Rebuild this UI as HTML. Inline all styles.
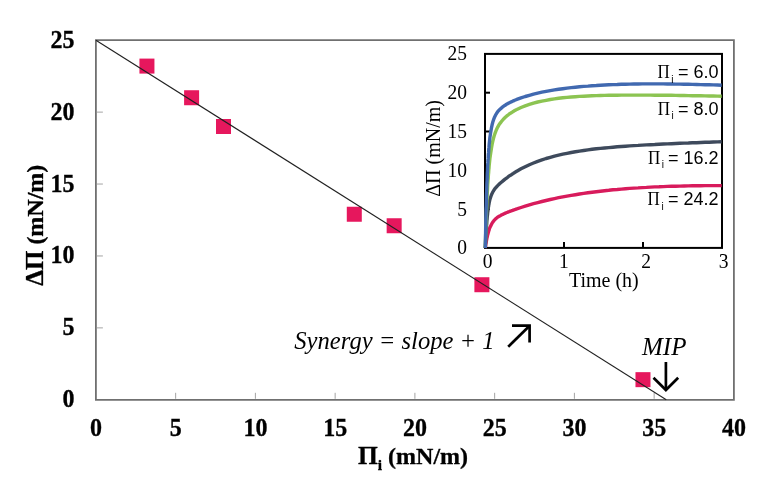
<!DOCTYPE html>
<html><head><meta charset="utf-8"><style>
html,body{margin:0;padding:0;background:#fff;}
body{width:766px;height:487px;overflow:hidden;}
svg{display:block;filter:blur(0.3px);}
</style></head><body>
<svg width="766" height="487" viewBox="0 0 766 487">
<rect width="766" height="487" fill="#fff"/>
<g stroke="#707070" stroke-width="1.8" fill="none">
<path d="M95.9 40.2 H733.9 V399.8 H95.9 Z"/>
</g>
<g stroke="#a4a4a4" stroke-width="1">
<line x1="175.65" y1="398.8" x2="175.65" y2="392.8"/>
<line x1="255.4" y1="398.8" x2="255.4" y2="392.8"/>
<line x1="335.15" y1="398.8" x2="335.15" y2="392.8"/>
<line x1="414.9" y1="398.8" x2="414.9" y2="392.8"/>
<line x1="494.65" y1="398.8" x2="494.65" y2="392.8"/>
<line x1="574.4" y1="398.8" x2="574.4" y2="392.8"/>
<line x1="654.15" y1="398.8" x2="654.15" y2="392.8"/>
<line x1="96.9" y1="327.88" x2="102.9" y2="327.88"/>
<line x1="96.9" y1="255.96" x2="102.9" y2="255.96"/>
<line x1="96.9" y1="184.04" x2="102.9" y2="184.04"/>
<line x1="96.9" y1="112.12" x2="102.9" y2="112.12"/>
</g>
<g fill="#E6175D">
<rect x="139.44" y="58.59" width="15" height="15"/>
<rect x="184.1" y="90.24" width="15" height="15"/>
<rect x="216" y="119" width="15" height="15"/>
<rect x="346.79" y="206.75" width="15" height="15"/>
<rect x="386.66" y="218.25" width="15" height="15"/>
<rect x="474.39" y="277.23" width="15" height="15"/>
<rect x="635.48" y="372.16" width="15" height="15"/>
</g>
<line x1="95.9" y1="40.2" x2="666.3" y2="399.8" stroke="#202020" stroke-width="1.1"/>
<g font-family="Liberation Serif" font-weight="bold" font-size="24" fill="#000" stroke="#000" stroke-width="0.3">
<text transform="translate(74.5 407.3) scale(1 1.04)" text-anchor="end">0</text>
<text transform="translate(74.5 335.38) scale(1 1.04)" text-anchor="end">5</text>
<text transform="translate(74.5 263.46) scale(1 1.04)" text-anchor="end">10</text>
<text transform="translate(74.5 191.54) scale(1 1.04)" text-anchor="end">15</text>
<text transform="translate(74.5 119.62) scale(1 1.04)" text-anchor="end">20</text>
<text transform="translate(74.5 47.7) scale(1 1.04)" text-anchor="end">25</text>
<text transform="translate(95.9 436) scale(1 1.04)" text-anchor="middle">0</text>
<text transform="translate(175.65 436) scale(1 1.04)" text-anchor="middle">5</text>
<text transform="translate(255.4 436) scale(1 1.04)" text-anchor="middle">10</text>
<text transform="translate(335.15 436) scale(1 1.04)" text-anchor="middle">15</text>
<text transform="translate(414.9 436) scale(1 1.04)" text-anchor="middle">20</text>
<text transform="translate(494.65 436) scale(1 1.04)" text-anchor="middle">25</text>
<text transform="translate(574.4 436) scale(1 1.04)" text-anchor="middle">30</text>
<text transform="translate(654.15 436) scale(1 1.04)" text-anchor="middle">35</text>
<text transform="translate(733.9 436) scale(1 1.04)" text-anchor="middle">40</text>
<text transform="translate(43 225.2) rotate(-90)" text-anchor="middle"><tspan font-size="25">&#916;&#928;</tspan> (mN/m)</text>
<text x="413" y="464" text-anchor="middle"><tspan font-size="25.5">&#928;</tspan><tspan font-size="15.5" dy="5.6">i</tspan><tspan dy="-5.6"> (mN/m)</tspan></text>
</g>
<g font-family="Liberation Serif" font-style="italic" fill="#000">
<text x="294.3" y="349.4" font-size="24.6">Synergy = slope + 1</text>
<text x="642" y="355" font-size="25">MIP</text>
</g>
<g stroke="#000" stroke-width="2.7" fill="none">
<line x1="508.2" y1="346.8" x2="528.6" y2="326.8"/>
<polyline points="512,325.6 529.6,325.6 529.6,342.5"/>
<line x1="665.9" y1="362" x2="665.9" y2="389"/>
<polyline points="653.5,377.8 665.9,390 678.2,377.8"/>
</g>
<rect x="485.0" y="53.9" width="237" height="194" fill="#fff" stroke="#000" stroke-width="2"/>
<g stroke="#000" stroke-width="2">
<line x1="485.0" y1="209.1" x2="490.0" y2="209.1"/>
<line x1="485.0" y1="170.3" x2="490.0" y2="170.3"/>
<line x1="485.0" y1="131.5" x2="490.0" y2="131.5"/>
<line x1="485.0" y1="92.7" x2="490.0" y2="92.7"/>
<line x1="564" y1="247.9" x2="564" y2="241.9"/>
<line x1="643" y1="247.9" x2="643" y2="241.9"/>
</g>
<g fill="none" stroke-width="3.4" stroke-linejoin="round" stroke-linecap="butt">
<path stroke="#D81B5C" d="M485.3 248.0 L485.4 247.0 L485.6 246.1 L485.7 245.2 L485.8 244.3 L486.0 243.5 L486.1 242.7 L486.3 241.9 L486.4 241.1 L486.5 240.4 L486.7 239.6 L486.8 238.9 L486.9 238.3 L487.1 237.6 L487.2 237.0 L487.3 236.4 L487.5 235.8 L487.6 235.2 L487.7 234.6 L487.9 234.1 L488.0 233.5 L488.2 233.0 L488.3 232.5 L488.4 232.1 L488.6 231.6 L488.7 231.1 L488.8 230.7 L489.0 230.3 L489.1 229.9 L489.2 229.5 L489.9 227.5 L490.7 225.9 L491.4 224.5 L492.1 223.2 L492.8 222.1 L493.5 221.2 L494.2 220.3 L494.9 219.6 L495.6 218.9 L496.3 218.3 L497.0 217.7 L497.7 217.2 L498.4 216.7 L499.1 216.3 L499.8 215.9 L500.6 215.5 L501.3 215.1 L502.0 214.7 L502.7 214.4 L503.4 214.1 L504.1 213.7 L504.8 213.4 L505.5 213.1 L506.2 212.8 L506.9 212.5 L507.6 212.2 L508.3 212.0 L509.0 211.7 L509.7 211.4 L510.5 211.1 L511.2 210.9 L511.9 210.6 L512.6 210.4 L513.3 210.1 L514.0 209.9 L514.7 209.6 L515.4 209.4 L516.1 209.1 L516.8 208.9 L521.0 207.5 L525.2 206.2 L529.4 204.9 L533.5 203.7 L537.7 202.6 L541.9 201.5 L546.1 200.5 L550.3 199.5 L554.5 198.6 L558.6 197.7 L562.8 196.9 L567.0 196.1 L571.2 195.4 L575.4 194.7 L579.5 194.0 L583.7 193.4 L587.9 192.8 L592.1 192.2 L596.3 191.7 L600.4 191.2 L604.6 190.7 L608.8 190.3 L613.0 189.8 L617.2 189.5 L621.4 189.1 L625.5 188.7 L629.7 188.4 L633.9 188.1 L638.1 187.9 L642.3 187.6 L646.4 187.4 L650.6 187.1 L654.8 186.9 L659.0 186.8 L663.2 186.6 L667.3 186.4 L671.5 186.3 L675.7 186.2 L679.9 186.1 L684.1 186.0 L688.3 185.9 L692.4 185.8 L696.6 185.7 L700.8 185.7 L705.0 185.6 L709.2 185.6 L713.3 185.6 L717.5 185.6 L721.7 185.6"/>
<path stroke="#3E4A5C" d="M485.3 248.0 L485.4 244.9 L485.6 242.1 L485.7 239.3 L485.8 236.7 L486.0 234.3 L486.1 232.0 L486.3 229.8 L486.4 227.8 L486.5 225.8 L486.7 224.0 L486.8 222.2 L486.9 220.6 L487.1 219.0 L487.2 217.5 L487.3 216.1 L487.5 214.8 L487.6 213.6 L487.7 212.4 L487.9 211.2 L488.0 210.2 L488.2 209.1 L488.3 208.2 L488.4 207.2 L488.6 206.4 L488.7 205.5 L488.8 204.7 L489.0 204.0 L489.1 203.3 L489.2 202.6 L489.9 199.5 L490.7 197.0 L491.4 195.0 L492.1 193.4 L492.8 192.0 L493.5 190.8 L494.2 189.7 L494.9 188.7 L495.6 187.9 L496.3 187.1 L497.0 186.3 L497.7 185.6 L498.4 184.9 L499.1 184.2 L499.8 183.5 L500.6 182.9 L501.3 182.3 L502.0 181.7 L502.7 181.1 L503.4 180.5 L504.1 180.0 L504.8 179.4 L505.5 178.8 L506.2 178.3 L506.9 177.8 L507.6 177.3 L508.3 176.7 L509.0 176.2 L509.7 175.7 L510.5 175.3 L511.2 174.8 L511.9 174.3 L512.6 173.8 L513.3 173.4 L514.0 172.9 L514.7 172.5 L515.4 172.1 L516.1 171.6 L516.8 171.2 L521.0 168.8 L525.2 166.7 L529.4 164.7 L533.5 163.0 L537.7 161.3 L541.9 159.9 L546.1 158.5 L550.3 157.3 L554.5 156.1 L558.6 155.1 L562.8 154.2 L567.0 153.3 L571.2 152.5 L575.4 151.8 L579.5 151.1 L583.7 150.5 L587.9 149.9 L592.1 149.3 L596.3 148.8 L600.4 148.4 L604.6 148.0 L608.8 147.6 L613.0 147.2 L617.2 146.8 L621.4 146.5 L625.5 146.2 L629.7 145.9 L633.9 145.6 L638.1 145.4 L642.3 145.1 L646.4 144.9 L650.6 144.7 L654.8 144.5 L659.0 144.2 L663.2 144.0 L667.3 143.9 L671.5 143.7 L675.7 143.5 L679.9 143.3 L684.1 143.1 L688.3 143.0 L692.4 142.8 L696.6 142.7 L700.8 142.5 L705.0 142.3 L709.2 142.2 L713.3 142.0 L717.5 141.9 L721.7 141.8"/>
<path stroke="#8CC452" d="M485.3 248.0 L485.4 242.7 L485.6 237.8 L485.7 233.1 L485.8 228.6 L486.0 224.4 L486.1 220.4 L486.3 216.6 L486.4 213.0 L486.5 209.5 L486.7 206.2 L486.8 203.1 L486.9 200.1 L487.1 197.3 L487.2 194.6 L487.3 192.0 L487.5 189.5 L487.6 187.1 L487.7 184.9 L487.9 182.7 L488.0 180.6 L488.2 178.6 L488.3 176.7 L488.4 174.8 L488.6 173.1 L488.7 171.4 L488.8 169.8 L489.0 168.2 L489.1 166.7 L489.2 165.3 L489.9 158.6 L490.7 153.0 L491.4 148.4 L492.1 144.5 L492.8 141.2 L493.5 138.3 L494.2 135.8 L494.9 133.7 L495.6 131.8 L496.3 130.0 L497.0 128.5 L497.7 127.1 L498.4 125.9 L499.1 124.7 L499.8 123.6 L500.6 122.6 L501.3 121.7 L502.0 120.8 L502.7 120.0 L503.4 119.2 L504.1 118.5 L504.8 117.8 L505.5 117.1 L506.2 116.5 L506.9 115.9 L507.6 115.3 L508.3 114.8 L509.0 114.2 L509.7 113.7 L510.5 113.2 L511.2 112.8 L511.9 112.3 L512.6 111.9 L513.3 111.4 L514.0 111.0 L514.7 110.6 L515.4 110.2 L516.1 109.8 L516.8 109.5 L521.0 107.5 L525.2 105.8 L529.4 104.4 L533.5 103.1 L537.7 102.0 L541.9 101.1 L546.1 100.3 L550.3 99.5 L554.5 98.9 L558.6 98.3 L562.8 97.8 L567.0 97.4 L571.2 97.0 L575.4 96.7 L579.5 96.4 L583.7 96.2 L587.9 96.0 L592.1 95.8 L596.3 95.6 L600.4 95.5 L604.6 95.4 L608.8 95.3 L613.0 95.2 L617.2 95.2 L621.4 95.1 L625.5 95.1 L629.7 95.1 L633.9 95.1 L638.1 95.1 L642.3 95.1 L646.4 95.1 L650.6 95.1 L654.8 95.2 L659.0 95.2 L663.2 95.2 L667.3 95.3 L671.5 95.3 L675.7 95.4 L679.9 95.5 L684.1 95.5 L688.3 95.6 L692.4 95.7 L696.6 95.7 L700.8 95.8 L705.0 95.9 L709.2 96.0 L713.3 96.0 L717.5 96.1 L721.7 96.2"/>
<path stroke="#4169B0" d="M485.3 248.0 L485.4 240.3 L485.6 233.2 L485.7 226.7 L485.8 220.5 L486.0 214.8 L486.1 209.4 L486.3 204.4 L486.4 199.7 L486.5 195.3 L486.7 191.1 L486.8 187.2 L486.9 183.6 L487.1 180.1 L487.2 176.8 L487.3 173.7 L487.5 170.8 L487.6 168.0 L487.7 165.4 L487.9 162.9 L488.0 160.6 L488.2 158.4 L488.3 156.3 L488.4 154.3 L488.6 152.4 L488.7 150.6 L488.8 148.8 L489.0 147.2 L489.1 145.7 L489.2 144.2 L489.9 137.5 L490.7 132.3 L491.4 128.2 L492.1 124.8 L492.8 122.1 L493.5 119.9 L494.2 118.0 L494.9 116.4 L495.6 115.0 L496.3 113.8 L497.0 112.7 L497.7 111.7 L498.4 110.9 L499.1 110.1 L499.8 109.4 L500.6 108.7 L501.3 108.1 L502.0 107.5 L502.7 106.9 L503.4 106.4 L504.1 105.9 L504.8 105.4 L505.5 105.0 L506.2 104.5 L506.9 104.1 L507.6 103.7 L508.3 103.3 L509.0 102.9 L509.7 102.6 L510.5 102.2 L511.2 101.9 L511.9 101.5 L512.6 101.2 L513.3 100.9 L514.0 100.6 L514.7 100.3 L515.4 100.0 L516.1 99.7 L516.8 99.4 L521.0 97.9 L525.2 96.5 L529.4 95.3 L533.5 94.1 L537.7 93.1 L541.9 92.2 L546.1 91.4 L550.3 90.6 L554.5 89.9 L558.6 89.3 L562.8 88.7 L567.0 88.1 L571.2 87.6 L575.4 87.2 L579.5 86.8 L583.7 86.4 L587.9 86.1 L592.1 85.7 L596.3 85.5 L600.4 85.2 L604.6 85.0 L608.8 84.8 L613.0 84.6 L617.2 84.5 L621.4 84.3 L625.5 84.2 L629.7 84.1 L633.9 84.0 L638.1 84.0 L642.3 83.9 L646.4 83.9 L650.6 83.9 L654.8 83.9 L659.0 83.9 L663.2 83.9 L667.3 84.0 L671.5 84.0 L675.7 84.1 L679.9 84.1 L684.1 84.2 L688.3 84.3 L692.4 84.4 L696.6 84.5 L700.8 84.6 L705.0 84.7 L709.2 84.8 L713.3 84.9 L717.5 85.0 L721.7 85.2"/>
</g>
<g font-family="Liberation Serif" font-size="19.5" fill="#000">
<text transform="translate(467 254.4) scale(1 1.06)" text-anchor="end">0</text>
<text transform="translate(467 215.6) scale(1 1.06)" text-anchor="end">5</text>
<text transform="translate(467 176.8) scale(1 1.06)" text-anchor="end">10</text>
<text transform="translate(467 138) scale(1 1.06)" text-anchor="end">15</text>
<text transform="translate(467 99.2) scale(1 1.06)" text-anchor="end">20</text>
<text transform="translate(467 60.4) scale(1 1.06)" text-anchor="end">25</text>
<text transform="translate(487.6 267.5) scale(1 1.06)" text-anchor="middle">0</text>
<text transform="translate(563.8 267.5) scale(1 1.06)" text-anchor="middle">1</text>
<text transform="translate(646.2 267.5) scale(1 1.06)" text-anchor="middle">2</text>
<text transform="translate(723.5 267.5) scale(1 1.06)" text-anchor="middle">3</text>
<text transform="translate(439.6 148.4) rotate(-90)" text-anchor="middle" font-size="20">&#916;&#928; (mN/m)</text>
<text x="603.8" y="287" text-anchor="middle" font-size="20">Time (h)</text>
</g>
<g font-family="Liberation Sans" font-size="18" fill="#000" text-anchor="end">
<text x="718.5" y="78.2">= 6.0</text>
<text transform="translate(657.4 78.2) scale(0.87 1)" font-family="Liberation Serif" font-size="19.5" text-anchor="start">&#928;</text>
<text x="671.2" y="82.5" font-size="10" text-anchor="start">i</text>
<text x="718.5" y="114.7">= 8.0</text>
<text transform="translate(657.7 114.7) scale(0.87 1)" font-family="Liberation Serif" font-size="19.5" text-anchor="start">&#928;</text>
<text x="671.5" y="119" font-size="10" text-anchor="start">i</text>
<text x="718.5" y="163.8">= 16.2</text>
<text transform="translate(648 163.8) scale(0.87 1)" font-family="Liberation Serif" font-size="19.5" text-anchor="start">&#928;</text>
<text x="661.8" y="168.1" font-size="10" text-anchor="start">i</text>
<text x="718.5" y="205.4">= 24.2</text>
<text transform="translate(647.6 205.4) scale(0.87 1)" font-family="Liberation Serif" font-size="19.5" text-anchor="start">&#928;</text>
<text x="661.4" y="209.7" font-size="10" text-anchor="start">i</text>
</g>
</svg>
</body></html>
